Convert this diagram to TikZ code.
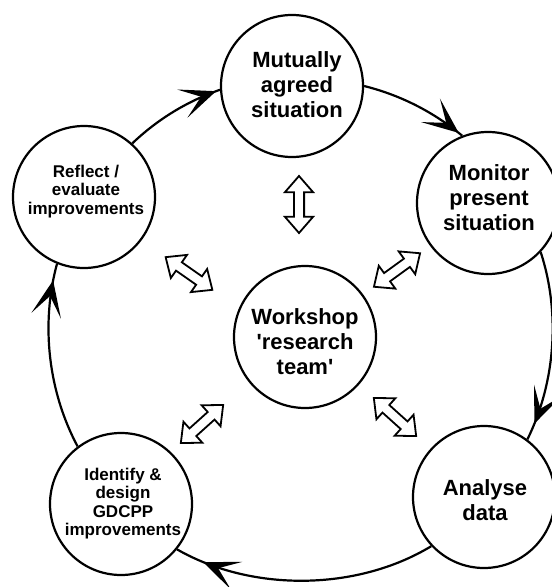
\documentclass[tikz,border=0pt]{standalone}
\usepackage{fontspec}
\setmainfont{Liberation Sans}[Ligatures=TeXOff]
\usetikzlibrary{arrows.meta,shapes.arrows,decorations.markings}
\tikzset{
  stage/.style={circle, draw, line width=2.2pt, minimum size=142pt, inner sep=0pt},
  bigtxt/.style={align=center, font=\fontsize{22}{25}\selectfont\bfseries, inner sep=0pt},
  smalltxt/.style={align=center, font=\fontsize{17}{18.5}\selectfont\bfseries, inner sep=0pt},
  cyc/.style={line width=2.2pt, looseness=0.87, postaction={decorate},
    decoration={markings, mark=at position #1 with {\arrow{Stealth[length=36pt,width=30pt,inset=20pt]}}}},
  dbl/.style={double arrow, draw, fill=white, line width=1.8pt, inner xsep=0pt, inner ysep=4.2pt,
    minimum height=57pt, double arrow head extend=9pt, double arrow tip angle=82}
}
\begin{document}
\begin{tikzpicture}[x=1pt,y=-1pt]
\useasboundingbox (0,0) rectangle (552,587);
% outer stages
\node[stage] (M) at (292,86) {};
\node[stage] (Mon) at (488,203) {};
\node[stage] (A) at (484,497) {};
\node[stage] (I) at (121,504) {};
\node[stage] (R) at (84,197) {};
\node[stage] (W) at (305,337) {};
% texts
\node[bigtxt] (Mt) at (297,84.5) {Mutually\\agreed\\situation};
\node[bigtxt] (Mont) at (489,197.5) {Monitor\\present\\situation};
\node[bigtxt] (At) at (485,500) {Analyse\\data};
\node[smalltxt] (It) at (123,503.5) {Identify \&\\design\\GDCPP\\improvements};
\node[smalltxt] (Rt) at (86,191.5) {Reflect /\\evaluate\\improvements};
\node[bigtxt] (Wt) at (305,342) {Workshop\\'research\\team'};
% cycle
\draw[cyc=0.96] (R.48.9) to[bend left=12.2] (M.183.5);
\draw[cyc=0.96] (M.0) to[bend left=12.8] (Mon.111.8);
\draw[cyc=0.91] (Mon.-43.2) to[bend left=22.1] (A.53);
\draw[cyc=0.89] (A.-137.5) to[bend left=30.5] (I.-39.6);
\draw[cyc=0.91] (I.127.8) to[bend left=21.7] (R.-112.3);
% double arrows
\node[dbl, rotate=90] (d1) at (299,204.5) {};
\node[dbl, rotate=-35] (d2) at (189,273.5) {};
\node[dbl, rotate=36] (d3) at (397,270) {};
\node[dbl, rotate=42] (d4) at (202,424) {};
\node[dbl, rotate=-42] (d5) at (395,417) {};
\end{tikzpicture}
\end{document}
